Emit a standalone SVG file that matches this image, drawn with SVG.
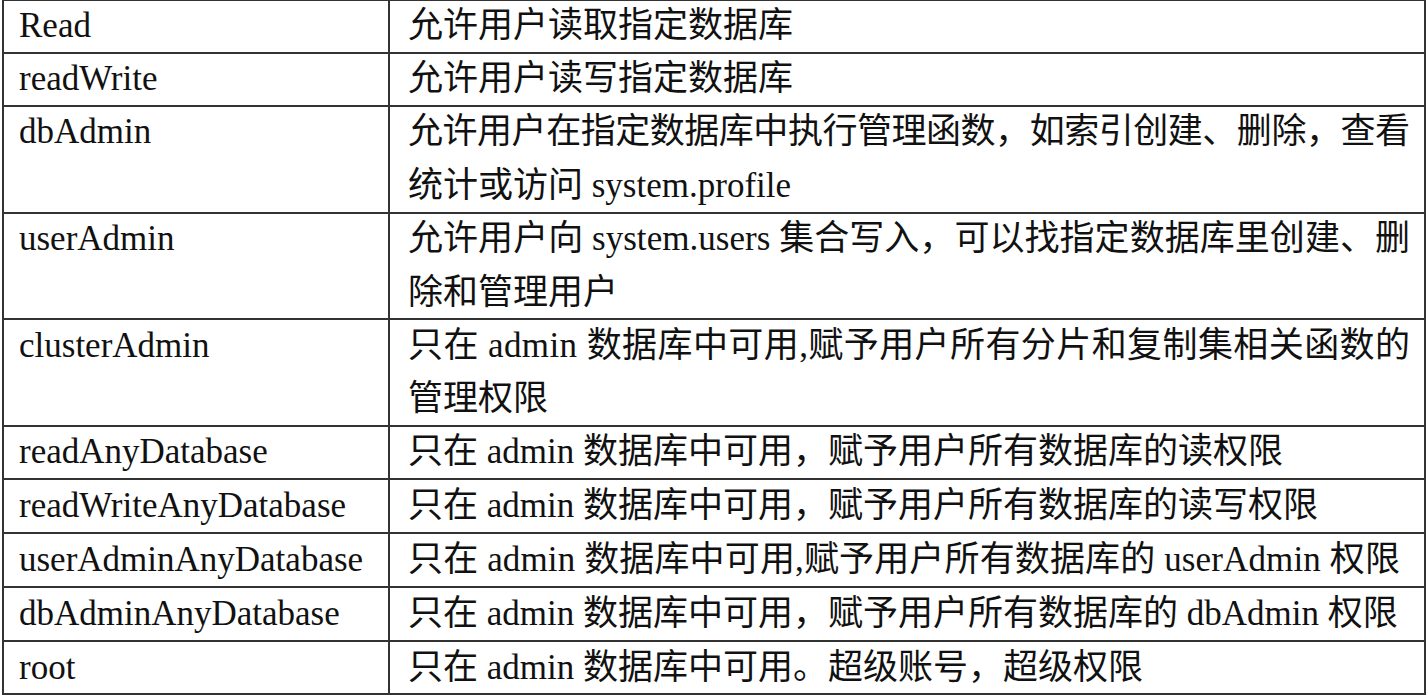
<svg xmlns="http://www.w3.org/2000/svg" width="1428" height="695" viewBox="0 0 1428 695">
<style>
.l{stroke:#333;stroke-width:2;fill:none}
text{font-family:"Liberation Serif","Noto Sans CJK SC",serif;font-size:35px;fill:#111}
</style>
<rect x="0" y="0" width="1428" height="695" fill="#fff"/>
<g id="grid">
<rect class="l" x="3" y="0" width="1422" height="694"/>
<line class="l" x1="389" y1="0" x2="389" y2="694"/>
<line class="l" x1="3" y1="53" x2="1425" y2="53"/>
<line class="l" x1="3" y1="106" x2="1425" y2="106"/>
<line class="l" x1="3" y1="213" x2="1425" y2="213"/>
<line class="l" x1="3" y1="319" x2="1425" y2="319"/>
<line class="l" x1="3" y1="426" x2="1425" y2="426"/>
<line class="l" x1="3" y1="479" x2="1425" y2="479"/>
<line class="l" x1="3" y1="533" x2="1425" y2="533"/>
<line class="l" x1="3" y1="587" x2="1425" y2="587"/>
<line class="l" x1="3" y1="641" x2="1425" y2="641"/>
</g>
<g id="c1">
<text x="19" y="37">Read</text>
<text x="19" y="90">readWrite</text>
<text x="19" y="143">dbAdmin</text>
<text x="19" y="250">userAdmin</text>
<text x="19" y="357">clusterAdmin</text>
<text x="19" y="463">readAnyDatabase</text>
<text x="19" y="517">readWriteAnyDatabase</text>
<text x="19" y="571">userAdminAnyDatabase</text>
<text x="19" y="625">dbAdminAnyDatabase</text>
<text x="19" y="679">root</text>
</g>
<g id="c2">
<text x="408" y="37">允许用户读取指定数据库</text>
<text x="408" y="90">允许用户读写指定数据库</text>
<text x="408" y="143" textLength="1002">允许用户在指定数据库中执行管理函数，如索引创建、删除，查看</text>
<text x="408" y="197">统计或访问 system.profile</text>
<text x="408" y="250" textLength="1002">允许用户向 system.users 集合写入，可以找指定数据库里创建、删</text>
<text x="408" y="304">除和管理用户</text>
<text x="408" y="357" textLength="1002">只在 admin 数据库中可用,赋予用户所有分片和复制集相关函数的</text>
<text x="408" y="410">管理权限</text>
<text x="408" y="463">只在 admin 数据库中可用，赋予用户所有数据库的读权限</text>
<text x="408" y="517">只在 admin 数据库中可用，赋予用户所有数据库的读写权限</text>
<text x="408" y="571" textLength="992">只在 admin 数据库中可用,赋予用户所有数据库的 userAdmin 权限</text>
<text x="408" y="625">只在 admin 数据库中可用，赋予用户所有数据库的 dbAdmin 权限</text>
<text x="408" y="679">只在 admin 数据库中可用。超级账号，超级权限</text>
</g>
</svg>
